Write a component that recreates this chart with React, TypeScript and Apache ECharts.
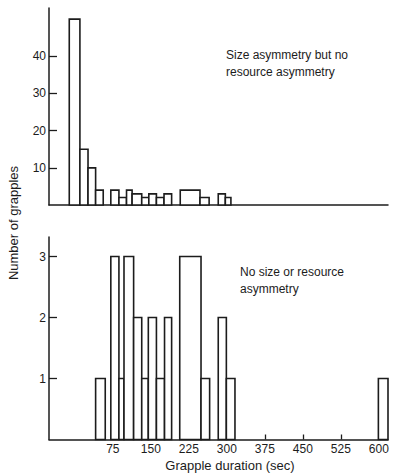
import React, { useEffect, useRef } from "react";
import * as echarts from "echarts";

// Upper panel: size asymmetry but no resource asymmetry (bin start, bin end in sec, count)
const topStart = [-11, 10, 26, 41, 71, 87, 102, 113, 132, 146, 161, 176, 208, 247, 283, 297];
const topEnd = [10, 26, 41, 56, 87, 102, 113, 132, 146, 161, 176, 191, 247, 265, 297, 308];
const topCount = [50, 15, 10, 4, 4, 2, 4, 3, 2, 3, 2, 3, 4, 2, 3, 2];

// Lower panel: no size or resource asymmetry
const botStart = [41, 71, 87, 97, 116, 132, 145, 161, 177, 207, 249, 283, 299, 599];
const botEnd = [60, 87, 97, 116, 132, 145, 161, 177, 191, 249, 266, 299, 316, 618];
const botCount = [1, 3, 1, 3, 2, 1, 2, 1, 2, 3, 1, 2, 1, 1];

const xTickLabels = [75, 150, 225, 300, 375, 450, 525, 600];
const topYTicks = [10, 20, 30, 40];
const botYTicks = [1, 2, 3];

const INK = "#1c1c1c";
const FONT = "Liberation Sans";

export default function App() {
  const ref = useRef<HTMLDivElement>(null);

  useEffect(() => {
    if (!ref.current) return;
    const chart = echarts.init(ref.current, null, { renderer: "svg" });

    const renderBar = (_params: any, api: any) => {
      const s = api.value(0);
      const e = api.value(1);
      const c = api.value(2);
      const p0 = api.coord([s, c]);
      const p1 = api.coord([e, 0]);
      return {
        type: "rect",
        shape: { x: p0[0], y: p0[1], width: p1[0] - p0[0], height: p1[1] - p0[1] },
        style: { fill: "#ffffff", stroke: INK, lineWidth: 1.6 },
      };
    };

    const xBase = {
      type: "value",
      min: -51,
      max: 618,
      splitLine: { show: false },
      axisLine: { show: true, onZero: false, lineStyle: { color: INK, width: 1.5 } },
    };
    const yBase = {
      type: "value",
      min: 0,
      splitLine: { show: false },
      axisLine: { show: true, onZero: false, lineStyle: { color: INK, width: 1.5 } },
      axisLabel: { color: INK, fontSize: 12, fontFamily: FONT, margin: 3 },
    };

    chart.setOption({
      animation: false,
      backgroundColor: "#ffffff",
      grid: [
        { left: 49, top: 8, width: 339, height: 197 },
        { left: 49, top: 237, width: 339, height: 202.5 },
      ],
      xAxis: [
        {
          ...xBase,
          gridIndex: 0,
          axisTick: { show: false },
          axisLabel: { show: false },
        },
        {
          ...xBase,
          gridIndex: 1,
          axisTick: {
            show: true,
            inside: true,
            length: 5,
            customValues: xTickLabels,
            lineStyle: { color: INK, width: 1.3 },
          },
          axisLabel: {
            show: true,
            customValues: xTickLabels,
            color: INK,
            fontSize: 12,
            fontFamily: FONT,
            margin: 3,
          },
        },
      ],
      yAxis: [
        {
          ...yBase,
          gridIndex: 0,
          max: 53,
          axisTick: {
            show: true,
            inside: true,
            length: 8,
            customValues: topYTicks,
            lineStyle: { color: INK, width: 1.3 },
          },
          axisLabel: { ...yBase.axisLabel, customValues: topYTicks },
        },
        {
          ...yBase,
          gridIndex: 1,
          max: 202.5 / 61,
          axisTick: {
            show: true,
            inside: true,
            length: 8,
            customValues: botYTicks,
            lineStyle: { color: INK, width: 1.3 },
          },
          axisLabel: { ...yBase.axisLabel, customValues: botYTicks },
        },
      ],
      series: [
        {
          type: "custom",
          xAxisIndex: 0,
          yAxisIndex: 0,
          renderItem: renderBar,
          encode: { x: [0, 1], y: 2 },
          clip: false,
          data: topStart.map((s, i) => [s, topEnd[i], topCount[i]]),
        },
        {
          type: "custom",
          xAxisIndex: 1,
          yAxisIndex: 1,
          renderItem: renderBar,
          encode: { x: [0, 1], y: 2 },
          clip: false,
          data: botStart.map((s, i) => [s, botEnd[i], botCount[i]]),
        },
      ],
      graphic: [
        {
          type: "text",
          left: 226,
          top: 46,
          style: {
            text: "Size asymmetry but no\nresource asymmetry",
            fill: INK,
            font: `12px "${FONT}"`,
            lineHeight: 17,
          },
        },
        {
          type: "text",
          left: 240,
          top: 263,
          style: {
            text: "No size or resource\nasymmetry",
            fill: INK,
            font: `12px "${FONT}"`,
            lineHeight: 17,
          },
        },
        {
          type: "text",
          x: 230,
          y: 465,
          style: {
            text: "Grapple duration (sec)",
            fill: INK,
            font: `13px "${FONT}"`,
            align: "center",
            verticalAlign: "middle",
          },
        },
        {
          type: "text",
          x: 13,
          y: 223,
          rotation: Math.PI / 2,
          style: {
            text: "Number of grapples",
            fill: INK,
            font: `13px "${FONT}"`,
            align: "center",
            verticalAlign: "middle",
          },
        },
      ],
    });

    return () => chart.dispose();
  }, []);

  return (
    <div
      ref={ref}
      style={{ position: "absolute", left: 0, top: 0, width: 404, height: 473 }}
    />
  );
}
